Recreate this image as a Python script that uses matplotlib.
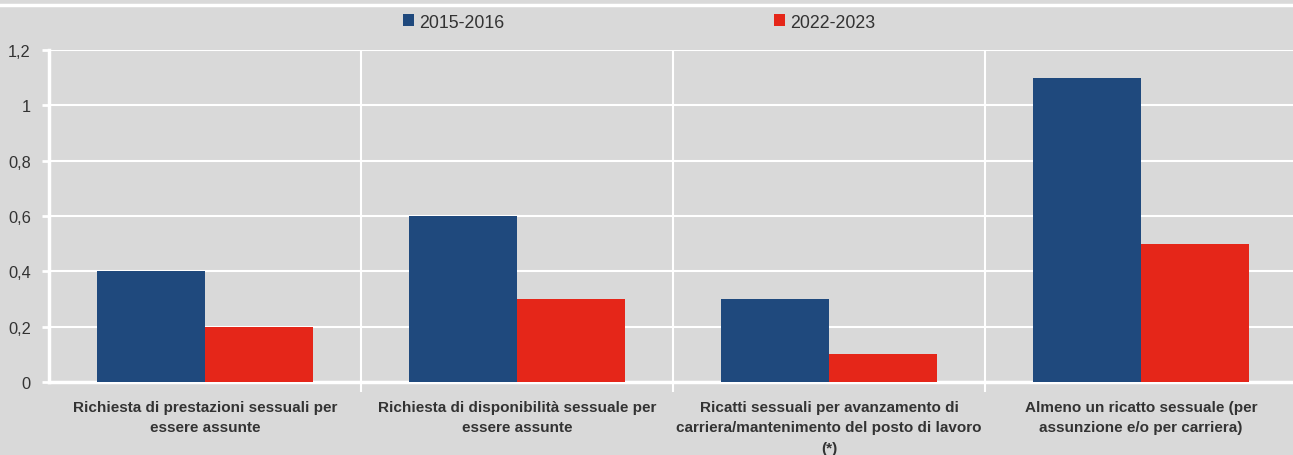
import numpy as np
import matplotlib.pyplot as plt
from matplotlib.lines import Line2D

plt.rcParams['font.family'] = ['Liberation Sans', 'DejaVu Sans']

categories = ['Richiesta di prestazioni sessuali per\nessere assunte',
              'Richiesta di disponibilità sessuale per\nessere assunte',
              'Ricatti sessuali per avanzamento di\ncarriera/mantenimento del posto di lavoro\n(*)',
              'Almeno un ricatto sessuale (per\nassunzione e/o per carriera)']
s2015 = [0.4, 0.6, 0.3, 1.1]
s2022 = [0.2, 0.3, 0.1, 0.5]
yticks = [0, 0.2, 0.4, 0.6, 0.8, 1.0, 1.2]
ylabels = ['0', '0,2', '0,4', '0,6', '0,8', '1', '1,2']

bg = '#d9d9d9'
blue = '#1f497d'
red = '#e52619'
txt = '#333333'

fig = plt.figure(figsize=(12.93, 4.56), dpi=100, facecolor=bg)
ax = fig.add_axes([49/1293, 73/456, 1248/1293, 332/456], facecolor=bg)

x = np.arange(len(categories))
w = 0.346
ax.bar(x - w/2, s2015, w, color=blue, zorder=3, label='2015-2016')
ax.bar(x + w/2, s2022, w, color=red, zorder=3, label='2022-2023')

ax.set_xlim(-0.5, 3.5)
ax.set_ylim(0, 1.2)
ax.set_yticks(yticks)
ax.set_yticklabels(ylabels, fontsize=11.8, color=txt)
ax.grid(axis='y', color='white', lw=1.5, zorder=1)

# separatori tra categorie
for b in [0.5, 1.5, 2.5]:
    ax.axvline(b, color='white', lw=1.5, zorder=1)
ax.set_xticks([0.5, 1.5, 2.5])
ax.set_xticklabels([])
ax.tick_params(axis='x', length=7, width=1.5, color='white')
ax.tick_params(axis='y', length=5, width=2, color='white', pad=8)
for i, c in enumerate(categories):
    ax.text(i, -0.064, c, ha='center', va='top', fontsize=11, fontweight='bold',
            color=txt, linespacing=1.6)

for s in ['top', 'right']:
    ax.spines[s].set_visible(False)
for s in ['left', 'bottom']:
    ax.spines[s].set_color('white')
    ax.spines[s].set_linewidth(2.5)

# linea bianca in alto
fig.add_artist(Line2D([0, 1], [1 - 6/456, 1 - 6/456], color='white', lw=2.5,
                      transform=fig.transFigure))

h, l = ax.get_legend_handles_labels()
fig.legend(h, l, loc='center', bbox_to_anchor=(639/1293, 1 - 23/456), ncol=2,
           frameon=False, fontsize=12.8, handlelength=0.62, handleheight=0.62,
           handletextpad=0.28, columnspacing=15.2, labelcolor=txt)

plt.savefig('out.png', dpi=100, facecolor=bg)
